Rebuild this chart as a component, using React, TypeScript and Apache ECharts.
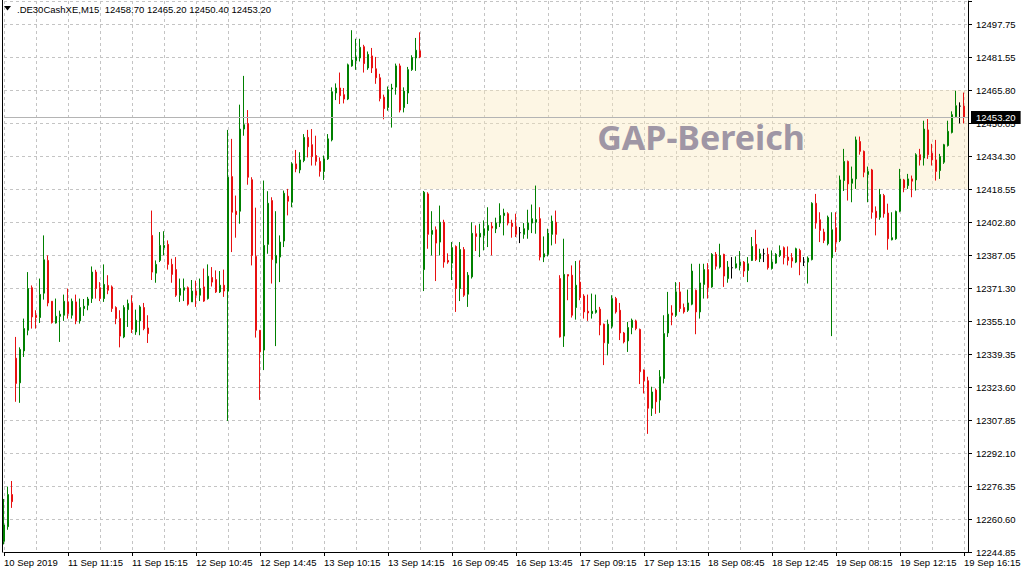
import React, { useEffect, useRef } from 'react';
import * as echarts from 'echarts';

// ---------- labels ----------
const symbolName = '.DE30CashXE,M15';
const firstDayLabel = '10 Sep 2019';
const tradingDays = ['10 Sep', '11 Sep', '12 Sep', '13 Sep', '16 Sep', '17 Sep', '18 Sep', '19 Sep'];
const sessionTimes = [
  '08:00', '08:15', '08:30', '08:45', '09:00', '09:15', '09:30', '09:45', '10:00', '10:15', '10:30', '10:45',
  '11:00', '11:15', '11:30', '11:45', '12:00', '12:15', '12:30', '12:45', '13:00', '13:15', '13:30', '13:45',
  '14:00', '14:15', '14:30', '14:45', '15:00', '15:15', '15:30', '15:45', '16:00', '16:15',
];
const firstDayBars = 3; // only the last three bars of 10 Sep are visible

const priceTicks = [
  '12244.85', '12260.60', '12276.35', '12292.10', '12307.85', '12323.60', '12339.35', '12355.10', '12371.30',
  '12387.05', '12402.80', '12418.55', '12434.30', '12450.05', '12465.80', '12481.55', '12497.75',
];
const yMin = 12244.85;
const yMax = 12509.12;

// ---------- OHLC (15-minute bars) ----------
const opens = [
  12250.0, 12257.0, 12272.4, 12337.8, 12326.0, 12341.3, 12351.2, 12371.6, 12358.4, 12357.3,
  12369.0, 12384.7, 12365.1, 12354.7, 12357.9, 12358.4, 12364.8, 12358.4, 12364.8, 12355.7,
  12361.6, 12363.2, 12366.4, 12379.1, 12371.6, 12366.4, 12372.7, 12372.0, 12362.1, 12356.8,
  12348.0, 12361.1, 12364.3, 12350.4, 12355.7, 12362.1, 12352.3, 12396.7, 12378.6, 12384.7,
  12390.8, 12392.4, 12382.8, 12380.3, 12368.0, 12370.4, 12371.6, 12364.8, 12370.0, 12368.0,
  12372.0, 12366.4, 12376.5, 12375.5, 12369.6, 12372.8, 12370.0, 12424.9, 12408.3, 12408.3,
  12447.7, 12450.4, 12423.4, 12386.6, 12351.2, 12341.7, 12392.4, 12413.4, 12383.4, 12386.3,
  12394.0, 12415.5, 12412.6, 12431.0, 12428.1, 12432.6, 12443.7, 12440.2, 12435.0, 12432.2,
  12427.4, 12433.4, 12442.5, 12465.0, 12467.4, 12464.2, 12462.1, 12478.0, 12480.5, 12481.8,
  12487.2, 12477.0, 12482.8, 12476.6, 12472.3, 12463.0, 12458.0, 12466.9, 12467.8, 12478.0,
  12458.0, 12465.0, 12476.2, 12481.8, 12485.2, 12380.3, 12416.6, 12397.2, 12399.4, 12393.5,
  12403.0, 12384.7, 12383.4, 12391.4, 12371.2, 12389.9, 12368.5, 12376.8, 12397.5, 12395.9,
  12396.7, 12399.1, 12401.1, 12399.9, 12402.6, 12406.2, 12407.1, 12402.6, 12401.0, 12398.0,
  12397.2, 12399.4, 12402.6, 12403.0, 12404.7, 12386.3, 12387.6, 12397.2, 12403.0, 12376.0,
  12348.4, 12377.9, 12377.6, 12362.1, 12374.3, 12367.6, 12360.3, 12359.2, 12359.8, 12361.3,
  12354.1, 12344.9, 12353.1, 12366.4, 12360.8, 12349.9, 12346.1, 12352.5, 12355.7, 12351.6,
  12332.1, 12327.0, 12313.8, 12322.5, 12317.7, 12328.1, 12349.9, 12359.5, 12358.4, 12369.6,
  12362.1, 12360.8, 12363.7, 12370.4, 12360.0, 12373.2, 12380.3, 12372.0, 12387.6, 12381.5,
  12387.6, 12376.0, 12381.2, 12381.2, 12382.3, 12383.9, 12379.9, 12384.7, 12392.4, 12385.5,
  12387.9, 12387.6, 12380.8, 12383.4, 12387.1, 12390.8, 12386.3, 12386.0, 12383.9, 12389.5,
  12383.9, 12383.9, 12385.1, 12412.1, 12404.2, 12398.3, 12392.7, 12386.0, 12400.4, 12394.3,
  12423.0, 12432.2, 12421.7, 12423.8, 12441.7, 12437.0, 12425.9, 12428.1, 12408.3, 12405.4,
  12415.8, 12407.4, 12394.6, 12395.1, 12408.3, 12423.3, 12420.6, 12423.8, 12423.3, 12435.4,
  12433.8, 12447.3, 12436.1, 12432.9, 12427.8, 12431.8, 12439.8, 12446.1, 12453.6, 12458.7,
  12458.7,
];
const highs = [
  12270.3, 12276.2, 12278.9, 12348.0, 12343.0, 12356.8, 12379.1, 12372.7, 12360.8, 12376.0,
  12396.7, 12387.1, 12365.1, 12366.4, 12360.6, 12368.3, 12371.2, 12366.4, 12368.3, 12366.4,
  12366.2, 12367.2, 12381.8, 12380.2, 12374.3, 12382.8, 12377.6, 12372.7, 12362.7, 12360.8,
  12363.2, 12365.9, 12368.0, 12361.1, 12363.2, 12364.3, 12358.4, 12408.6, 12384.7, 12398.3,
  12398.7, 12394.3, 12385.5, 12386.3, 12376.0, 12376.0, 12372.2, 12375.3, 12375.0, 12376.0,
  12380.8, 12382.8, 12381.5, 12379.9, 12379.6, 12380.3, 12447.3, 12443.0, 12415.8, 12459.4,
  12473.2, 12456.8, 12424.6, 12410.0, 12351.2, 12423.0, 12417.9, 12415.0, 12408.3, 12396.7,
  12418.2, 12419.0, 12431.8, 12437.7, 12436.6, 12445.3, 12447.3, 12447.7, 12444.5, 12434.1,
  12435.0, 12445.3, 12467.7, 12469.6, 12474.8, 12467.4, 12479.1, 12495.1, 12491.0, 12491.0,
  12488.1, 12484.9, 12486.6, 12482.3, 12474.2, 12464.2, 12468.1, 12469.4, 12479.1, 12479.1,
  12467.7, 12477.5, 12483.1, 12491.4, 12494.1, 12418.0, 12417.4, 12408.3, 12401.0, 12411.0,
  12404.2, 12388.1, 12393.5, 12391.9, 12393.5, 12391.1, 12379.1, 12403.0, 12401.5, 12402.3,
  12403.9, 12410.2, 12403.0, 12405.2, 12412.1, 12409.5, 12407.8, 12404.2, 12407.1, 12400.7,
  12402.6, 12409.0, 12411.5, 12420.6, 12410.2, 12396.2, 12399.9, 12406.2, 12408.6, 12377.6,
  12395.1, 12377.9, 12382.3, 12384.4, 12384.7, 12368.5, 12368.3, 12368.8, 12368.3, 12362.4,
  12354.4, 12356.3, 12368.0, 12367.2, 12364.3, 12350.4, 12355.2, 12356.8, 12356.3, 12352.0,
  12332.4, 12328.9, 12324.1, 12323.3, 12332.1, 12358.4, 12369.6, 12363.2, 12374.3, 12374.3,
  12364.0, 12370.7, 12383.1, 12370.7, 12383.1, 12383.1, 12383.4, 12388.2, 12388.7, 12392.7,
  12387.9, 12384.4, 12386.3, 12386.6, 12389.2, 12384.4, 12386.3, 12395.9, 12399.4, 12390.3,
  12390.3, 12390.8, 12389.5, 12388.2, 12391.9, 12391.4, 12391.4, 12388.2, 12390.8, 12390.3,
  12386.3, 12386.6, 12412.6, 12416.6, 12407.8, 12399.9, 12406.2, 12407.8, 12407.8, 12425.4,
  12438.2, 12432.6, 12429.7, 12444.1, 12444.1, 12437.4, 12429.7, 12428.6, 12410.6, 12419.0,
  12416.6, 12411.9, 12407.8, 12408.6, 12428.6, 12423.8, 12426.2, 12425.4, 12436.1, 12438.2,
  12451.7, 12452.5, 12440.6, 12442.5, 12435.8, 12440.6, 12451.7, 12456.2, 12466.1, 12460.5,
  12465.2,
];
const lows = [
  12248.5, 12255.5, 12266.0, 12316.9, 12316.4, 12338.4, 12348.8, 12352.0, 12352.0, 12354.7,
  12365.9, 12362.7, 12354.4, 12354.4, 12345.6, 12355.7, 12356.8, 12356.8, 12354.1, 12354.4,
  12358.1, 12360.8, 12364.3, 12366.4, 12365.2, 12364.8, 12368.5, 12360.0, 12354.1, 12343.0,
  12347.4, 12352.8, 12349.9, 12349.0, 12348.8, 12351.2, 12345.1, 12375.3, 12374.0, 12383.9,
  12387.1, 12380.3, 12374.0, 12367.2, 12364.8, 12365.2, 12363.0, 12364.8, 12362.4, 12365.2,
  12364.8, 12365.9, 12372.2, 12369.1, 12369.1, 12367.2, 12307.7, 12388.7, 12395.6, 12402.3,
  12444.5, 12421.0, 12382.3, 12347.7, 12317.8, 12332.1, 12387.9, 12373.6, 12343.6, 12374.3,
  12391.1, 12406.3, 12410.2, 12427.0, 12426.5, 12431.8, 12434.1, 12430.2, 12430.2, 12424.9,
  12423.3, 12432.9, 12441.8, 12461.6, 12459.7, 12460.0, 12461.6, 12477.6, 12476.1, 12480.1,
  12474.8, 12476.1, 12474.6, 12469.4, 12461.0, 12452.4, 12456.5, 12448.4, 12464.2, 12455.7,
  12455.7, 12459.7, 12475.6, 12475.6, 12481.7, 12370.0, 12390.3, 12387.1, 12374.8, 12387.1,
  12381.2, 12383.1, 12375.3, 12360.0, 12365.2, 12367.2, 12362.4, 12376.0, 12389.2, 12386.3,
  12389.5, 12391.1, 12387.1, 12397.8, 12400.7, 12396.7, 12401.5, 12395.6, 12395.9, 12393.0,
  12395.1, 12395.1, 12397.8, 12397.5, 12384.7, 12383.9, 12386.6, 12391.9, 12392.7, 12347.7,
  12343.2, 12365.6, 12357.3, 12356.3, 12365.6, 12356.8, 12355.7, 12356.8, 12359.2, 12348.8,
  12334.5, 12339.2, 12352.0, 12359.2, 12346.5, 12344.9, 12340.8, 12349.3, 12351.2, 12325.4,
  12320.9, 12301.5, 12310.1, 12311.1, 12311.6, 12325.7, 12348.0, 12353.6, 12357.6, 12360.0,
  12359.2, 12360.0, 12363.2, 12349.3, 12356.8, 12366.4, 12366.4, 12371.6, 12380.3, 12380.8,
  12372.0, 12374.0, 12376.0, 12380.8, 12379.9, 12376.8, 12374.3, 12384.4, 12384.4, 12383.9,
  12383.9, 12380.3, 12380.3, 12383.1, 12386.3, 12382.8, 12382.3, 12381.2, 12383.4, 12377.6,
  12382.0, 12373.6, 12384.7, 12399.9, 12393.5, 12393.0, 12391.9, 12348.4, 12388.7, 12393.5,
  12418.0, 12413.4, 12412.6, 12419.0, 12435.4, 12424.6, 12412.6, 12404.7, 12396.7, 12404.2,
  12405.2, 12389.8, 12394.3, 12394.6, 12407.8, 12417.4, 12419.0, 12415.0, 12418.2, 12430.2,
  12430.2, 12433.4, 12430.2, 12423.0, 12423.8, 12431.0, 12439.3, 12445.6, 12453.0, 12450.4,
  12450.4,
];
const closes = [
  12257.8, 12272.4, 12269.0, 12325.7, 12342.0, 12352.0, 12371.2, 12357.6, 12357.3, 12368.4,
  12385.0, 12364.3, 12354.9, 12357.9, 12358.9, 12365.1, 12359.2, 12365.1, 12355.7, 12362.1,
  12362.7, 12366.2, 12379.1, 12371.2, 12366.4, 12373.2, 12370.4, 12361.6, 12356.8, 12348.4,
  12362.1, 12364.0, 12351.6, 12356.0, 12362.4, 12352.0, 12349.6, 12379.1, 12382.8, 12391.9,
  12391.9, 12382.8, 12378.0, 12368.0, 12371.2, 12371.6, 12363.7, 12370.0, 12368.0, 12371.2,
  12365.2, 12377.1, 12374.3, 12369.6, 12372.8, 12370.0, 12424.6, 12407.8, 12406.7, 12447.7,
  12449.8, 12424.6, 12387.1, 12351.2, 12340.8, 12391.9, 12412.1, 12385.1, 12387.1, 12393.5,
  12416.9, 12413.1, 12431.0, 12428.6, 12432.9, 12443.7, 12439.2, 12434.5, 12432.2, 12427.4,
  12433.4, 12443.0, 12465.6, 12467.4, 12463.7, 12462.1, 12478.5, 12480.8, 12482.3, 12486.9,
  12479.1, 12483.5, 12477.0, 12472.3, 12462.3, 12457.5, 12466.6, 12467.4, 12478.0, 12456.8,
  12465.9, 12476.2, 12482.0, 12485.5, 12482.3, 12417.4, 12397.2, 12399.1, 12393.0, 12403.0,
  12383.9, 12383.9, 12390.8, 12371.2, 12389.9, 12368.0, 12377.6, 12397.7, 12396.2, 12397.7,
  12399.9, 12401.5, 12400.2, 12402.6, 12406.2, 12407.4, 12402.6, 12401.0, 12397.2, 12398.0,
  12399.9, 12402.6, 12404.7, 12404.3, 12386.3, 12387.9, 12397.8, 12403.5, 12397.2, 12348.0,
  12378.0, 12377.2, 12358.4, 12372.8, 12366.9, 12360.0, 12359.5, 12360.3, 12360.8, 12353.7,
  12345.2, 12354.1, 12366.4, 12360.0, 12349.9, 12345.6, 12352.5, 12356.0, 12352.0, 12331.3,
  12327.0, 12313.8, 12321.6, 12316.9, 12328.9, 12349.6, 12358.9, 12358.4, 12369.6, 12361.6,
  12360.0, 12364.3, 12379.6, 12360.0, 12373.9, 12380.3, 12371.6, 12387.6, 12381.9, 12387.1,
  12377.2, 12381.5, 12381.2, 12383.1, 12383.9, 12379.6, 12383.1, 12391.4, 12385.1, 12387.9,
  12387.9, 12381.2, 12383.9, 12387.6, 12389.5, 12386.0, 12384.7, 12384.4, 12390.3, 12383.9,
  12383.9, 12385.8, 12412.1, 12402.6, 12399.1, 12394.3, 12405.4, 12399.4, 12393.5, 12423.3,
  12432.2, 12421.4, 12423.8, 12442.5, 12437.0, 12427.0, 12427.3, 12407.8, 12405.2, 12416.3,
  12407.1, 12395.1, 12395.6, 12408.2, 12423.8, 12419.5, 12423.8, 12422.7, 12435.4, 12432.9,
  12447.7, 12435.4, 12432.9, 12427.4, 12434.5, 12440.2, 12446.6, 12454.6, 12458.9, 12458.7,
  12453.2,
];

// ---------- annotation ----------
const gapLabel = 'GAP-Bereich';
const gapStartIndex = 104;
const gapTop = 12466.4;
const gapBottom = 12419.0;

const FONT = '"Liberation Sans", Arial, sans-serif';
const UP = '#008000';
const DOWN = '#e81010';
const GRID = '#c4c4c4';

function buildCategories(): string[] {
  const out: string[] = [];
  tradingDays.forEach((d, di) => {
    const times = di === 0 ? sessionTimes.slice(sessionTimes.length - firstDayBars) : sessionTimes;
    times.forEach((t) => out.push(`${d} ${t}`));
  });
  return out;
}

export default function App() {
  const ref = useRef<HTMLDivElement>(null);

  useEffect(() => {
    document.body.style.margin = '0';
    if (!ref.current) return;
    const chart = echarts.init(ref.current, null, { renderer: 'svg' });
    const categories = buildCategories();
    const candleData = opens.map((o, i) => [o, closes[i], lows[i], highs[i]]);
    const last = opens.length - 1;
    const fmt = (v: number) => v.toFixed(2);
    const header = `${symbolName}  ${fmt(opens[last])} ${fmt(highs[last])} ${fmt(lows[last])} ${fmt(closes[last])}`;
    const yStep = (parseFloat(priceTicks[priceTicks.length - 1]) - parseFloat(priceTicks[0])) / (priceTicks.length - 1);

    chart.setOption({
      animation: false,
      backgroundColor: '#ffffff',
      textStyle: { fontFamily: FONT },
      grid: { left: 4, top: 1, width: 964, height: 551, containLabel: false },
      xAxis: {
        type: 'category',
        data: categories,
        boundaryGap: false,
        max: categories.length,
        axisLine: { show: true, lineStyle: { color: '#000', width: 1 } },
        axisTick: { show: true, interval: 15, length: 4, lineStyle: { color: '#000' } },
        axisLabel: {
          interval: 15,
          align: 'left',
          margin: 5,
          fontSize: 9.5,
          color: '#000',
          fontFamily: FONT,
          formatter: (v: string, i: number) => (i === 0 ? firstDayLabel : v ?? ''),
        },
        splitLine: { show: true, interval: 7, lineStyle: { color: GRID, type: [3, 3], width: 1 } },
      },
      yAxis: {
        type: 'value',
        position: 'right',
        min: yMin,
        max: yMax,
        interval: yStep,
        axisLine: { show: true, lineStyle: { color: '#000', width: 1 } },
        axisTick: { show: true, length: 4, lineStyle: { color: '#000' } },
        axisLabel: {
          margin: 8,
          fontSize: 9.5,
          color: '#000',
          fontFamily: FONT,
          showMinLabel: true,
          formatter: (_v: number, i: number) => priceTicks[i] ?? '',
        },
        splitLine: { show: true, lineStyle: { color: GRID, type: [3, 3], width: 1 } },
      },
      series: [
        {
          type: 'candlestick',
          data: candleData,
          barWidth: 2,
          clip: false,
          itemStyle: {
            color: UP,
            color0: DOWN,
            borderColor: UP,
            borderColor0: DOWN,
            borderColorDoji: '#000',
            borderWidth: 1,
          },
          markArea: {
            silent: true,
            itemStyle: { color: 'rgba(250,232,188,0.4)' },
            data: [[{ xAxis: gapStartIndex, yAxis: gapTop }, { xAxis: categories.length, yAxis: gapBottom }]],
          },
          markLine: {
            silent: true,
            symbol: ['none', 'none'],
            lineStyle: { color: '#b4b4b4', type: 'solid', width: 1 },
            label: {
              show: true,
              position: 'end',
              distance: 3,
              formatter: fmt(closes[last]),
              color: '#fff',
              backgroundColor: '#000',
              padding: [2, 5, 1, 5],
              fontSize: 9.5,
              fontFamily: FONT,
            },
            data: [{ yAxis: closes[last] }],
          },
        },
      ],
      graphic: [
        { type: 'line', shape: { x1: 2.5, y1: 0, x2: 2.5, y2: 552.5 }, style: { stroke: '#000', lineWidth: 1 } },
        { type: 'polygon', shape: { points: [[4, 6], [11, 6], [7.5, 10.5]] }, style: { fill: '#000' } },
        {
          type: 'text',
          x: 17,
          y: 9,
          z: 100,
          style: { text: header, fill: '#000', fontSize: 9.5, fontFamily: FONT, verticalAlign: 'middle', align: 'left' },
        },
        {
          type: 'text',
          x: 701,
          y: 137,
          z: 100,
          style: {
            text: gapLabel,
            fill: '#9f96a5',
            fontSize: 34,
            fontWeight: 'bold',
            fontFamily: '"Noto Sans", sans-serif',
            align: 'center',
            verticalAlign: 'middle',
          },
        },
      ],
    });

    return () => chart.dispose();
  }, []);

  return <div ref={ref} style={{ width: 1024, height: 576 }} />;
}
